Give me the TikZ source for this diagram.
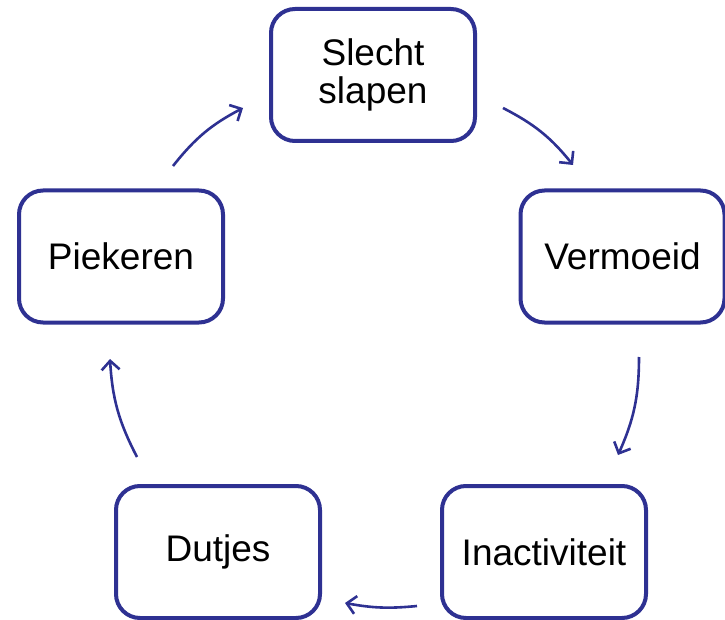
\documentclass[tikz,border=0pt]{standalone}
\usepackage{fontspec}
\setmainfont{Liberation Sans}
\usetikzlibrary{arrows.meta}
\definecolor{cycblue}{HTML}{2E3192}
\begin{document}
\begin{tikzpicture}[x=1pt,y=-1pt,
  box/.style={draw=cycblue, line width=4pt, rounded corners=24pt, fill=white,
    minimum width=204pt, minimum height=132pt, align=center, inner sep=0pt,
    font=\fontsize{37}{38}\selectfont},
  cyc/.style={draw=cycblue, line width=2.6pt, -{Straight Barb[length=9pt,width=18pt,line width=2.6pt]}}]
\useasboundingbox (0,0) rectangle (725,620);
\node[box] (s) at (373,75) {Slecht\\slapen};
\node[box] (v) at (622.5,256.5) {Vermoeid};
\node[box] (p) at (121,256.5) {Piekeren};
\node[box] (d) at (218,552) {Dutjes};
\node[box] (i) at (544,552) {Inactiviteit};
\coordinate (a1s) at (503,108); \coordinate (a1e) at (573,165);
\coordinate (a2s) at (639,357); \coordinate (a2e) at (618,455);
\coordinate (a3s) at (417,606); \coordinate (a3e) at (345,603);
\coordinate (a4s) at (137,457); \coordinate (a4e) at (110,359);
\coordinate (a5s) at (173,166); \coordinate (a5e) at (243,108);
\draw[cyc] (a1s) to[bend left=12] (a1e);
\draw[cyc] (a2s) to[bend left=12] (a2e);
\draw[cyc] (a3s) to[bend left=8] (a3e);
\draw[cyc] (a4s) to[bend left=12] (a4e);
\draw[cyc] (a5s) to[bend left=12] (a5e);
\end{tikzpicture}
\end{document}
